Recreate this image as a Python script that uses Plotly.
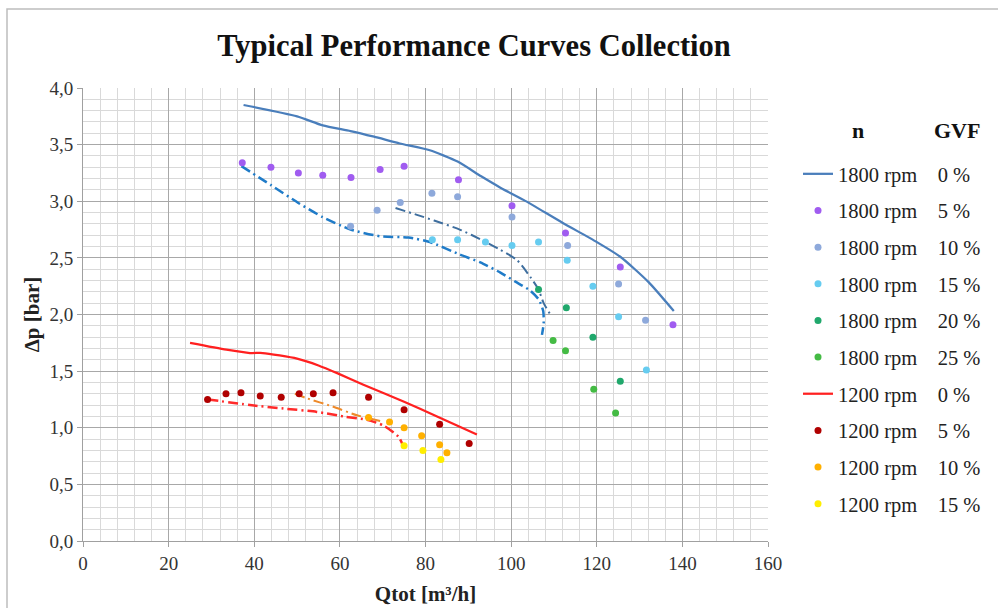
import plotly.graph_objects as go

# ---- measured pump performance data (Q in m3/h, dp in bar) ----
q_1800_0 = [37.5, 50, 56, 62.5, 68, 74, 81, 87.5, 93, 97.5, 103, 112, 120, 125.5, 132, 138]
dp_1800_0 = [3.85, 3.75, 3.67, 3.62, 3.57, 3.51, 3.45, 3.35, 3.22, 3.12, 3.01, 2.81, 2.64, 2.51, 2.29, 2.03]

q_1800_5 = [37.2, 43.9, 50.3, 56.0, 62.6, 69.4, 75.0, 87.7, 100.2, 112.7, 125.5, 137.8]
dp_1800_5 = [3.34, 3.30, 3.25, 3.23, 3.21, 3.28, 3.31, 3.19, 2.96, 2.72, 2.42, 1.91]

q_1800_10 = [62.5, 68.7, 74.1, 81.5, 87.5, 100.2, 113.2, 125.1, 131.4]
dp_1800_10 = [2.78, 2.92, 2.99, 3.07, 3.04, 2.86, 2.61, 2.27, 1.95]

q_1800_15 = [81.6, 87.5, 94.0, 100.2, 106.4, 113.1, 119.1, 125.1, 131.6]
dp_1800_15 = [2.66, 2.66, 2.64, 2.61, 2.64, 2.48, 2.25, 1.98, 1.51]

q_1800_20 = [106.4, 112.9, 119.1, 125.5]
dp_1800_20 = [2.22, 2.06, 1.80, 1.41]

q_1800_25 = [109.8, 112.7, 119.3, 124.4]
dp_1800_25 = [1.77, 1.68, 1.34, 1.13]

q_1200_0 = [25, 33.5, 39, 42, 50, 55, 59.5, 65.5, 75, 82.7, 92]
dp_1200_0 = [1.75, 1.69, 1.66, 1.66, 1.61, 1.55, 1.48, 1.38, 1.23, 1.10, 0.94]

q_1200_5 = [29.1, 33.4, 36.9, 41.4, 46.3, 50.5, 53.8, 58.4, 66.7, 75.0, 83.3, 90.2]
dp_1200_5 = [1.25, 1.30, 1.31, 1.28, 1.27, 1.30, 1.30, 1.31, 1.27, 1.16, 1.03, 0.86]

q_1200_10 = [66.7, 71.6, 75.0, 79.1, 83.3, 85.0]
dp_1200_10 = [1.09, 1.05, 1.00, 0.93, 0.85, 0.78]

q_1200_15 = [75.0, 79.4, 83.6]
dp_1200_15 = [0.84, 0.80, 0.72]

# two-phase trend curves (dash-dot)
q_trend_a = [37, 44, 50.5, 56, 62.5, 69.5, 76, 81, 88, 92.8, 97.5, 101, 104.5, 106.5, 107.5, 107.6, 107.2]
dp_trend_a = [3.31, 3.14, 2.98, 2.86, 2.75, 2.69, 2.68, 2.64, 2.53, 2.46, 2.37, 2.29, 2.21, 2.13, 2.03, 1.92, 1.82]

q_trend_b = [73, 78, 82, 88, 93.6, 97.5, 101.4, 104.5, 106.4, 107.6, 109]
dp_trend_b = [2.94, 2.88, 2.83, 2.75, 2.65, 2.57, 2.48, 2.33, 2.22, 2.10, 2.01]

q_trend_c = [29.2, 39.0, 46.8, 54.6, 60.8, 66.3, 70.2, 73.7, 74.9]
dp_trend_c = [1.25, 1.20, 1.17, 1.14, 1.10, 1.07, 1.02, 0.92, 0.83]

q_trend_d = [49.5, 52.3, 58.1, 64.0, 69.4]
dp_trend_d = [1.30, 1.26, 1.19, 1.11, 1.06]

FONT = "Liberation Serif, Times New Roman, serif"
PAD = "\u00a0" * 4

fig = go.Figure()


def line(q, dp, name, color, width=2.25):
    fig.add_trace(go.Scatter(x=q, y=dp, mode="lines", name=name, legendgroup=name,
                             line=dict(color=color, width=width, shape="spline", smoothing=0.6)))


def dots(q, dp, name, color):
    fig.add_trace(go.Scatter(x=q, y=dp, mode="markers", name=name, legendgroup=name,
                             marker=dict(color=color, size=7)))


def trend(q, dp, color, width):
    fig.add_trace(go.Scatter(x=q, y=dp, mode="lines", showlegend=False, hoverinfo="skip",
                             line=dict(color=color, width=width, dash="10px,4px,2px,4px",
                                       shape="spline", smoothing=0.6)))


trend(q_trend_a, dp_trend_a, "#1F7BC8", 2.5)
trend(q_trend_b, dp_trend_b, "#3E6E9E", 2.0)
trend(q_trend_c, dp_trend_c, "#FF2A2A", 2.5)
trend(q_trend_d, dp_trend_d, "#EE8A2A", 2.0)

line(q_1800_0, dp_1800_0, "1800 rpm" + PAD + "0 %", "#4A7EBB")
dots(q_1800_5, dp_1800_5, "1800 rpm" + PAD + "5 %", "#A05CF0")
dots(q_1800_10, dp_1800_10, "1800 rpm" + PAD + "10 %", "#8EA9DB")
dots(q_1800_15, dp_1800_15, "1800 rpm" + PAD + "15 %", "#66CCF0")
dots(q_1800_20, dp_1800_20, "1800 rpm" + PAD + "20 %", "#20A86C")
dots(q_1800_25, dp_1800_25, "1800 rpm" + PAD + "25 %", "#44BB44")
line(q_1200_0, dp_1200_0, "1200 rpm" + PAD + "0 %", "#FF2020")
dots(q_1200_5, dp_1200_5, "1200 rpm" + PAD + "5 %", "#B00000")
dots(q_1200_10, dp_1200_10, "1200 rpm" + PAD + "10 %", "#FFB000")
dots(q_1200_15, dp_1200_15, "1200 rpm" + PAD + "15 %", "#FFEE00")

W, H = 998, 608
L, R, T, B = 83, 768, 88, 541


def px_x(p):
    return (p - L) / (R - L)


def px_y(p):
    return (B - p) / (B - T)


axis_common = dict(
    showgrid=True, gridcolor="#A8A8A8", gridwidth=1,
    showline=True, linecolor="#A0A0A0", linewidth=1,
    ticks="outside", ticklen=5, tickcolor="#A0A0A0",
    tickfont=dict(family=FONT, size=19, color="#333333"),
    zeroline=False, fixedrange=True,
)

fig.update_xaxes(range=[0, 160], dtick=20, tick0=0,
                 minor=dict(dtick=4, showgrid=True, gridcolor="#D9D9D9", gridwidth=1),
                 title=dict(text="<b>Qtot [m³/h]</b>", font=dict(family=FONT, size=21, color="#222"),
                            standoff=13),
                 **axis_common)
fig.update_yaxes(range=[0, 4], dtick=0.5, tick0=0, tickformat=".1f",
                 minor=dict(dtick=0.1, showgrid=True, gridcolor="#D9D9D9", gridwidth=1),
                 title=dict(text="<b>Δp [bar]</b>", font=dict(family=FONT, size=21, color="#222"),
                            standoff=4),
                 **axis_common)

fig.update_layout(
    width=W, height=H,
    margin=dict(l=L, r=W - R, t=T, b=H - B, autoexpand=False),
    paper_bgcolor="white", plot_bgcolor="white",
    separators=",.",
    title=dict(text="<b>Typical Performance Curves Collection</b>",
               font=dict(family=FONT, size=30.5, color="#111"),
               x=474 / W, xanchor="center", y=1 - 45 / H, yanchor="middle"),
    legend=dict(x=px_x(798), xanchor="left", y=px_y(154), yanchor="top",
                font=dict(family=FONT, size=20.5, color="#222"),
                tracegroupgap=7, traceorder="grouped", bgcolor="rgba(0,0,0,0)"),
    showlegend=True,
    annotations=[
        dict(text="<b>n</b>", x=px_x(858), y=px_y(130), xref="paper", yref="paper",
             xanchor="center", yanchor="middle",
             showarrow=False, font=dict(family=FONT, size=22, color="#111")),
        dict(text="<b>GVF</b>", x=px_x(957), y=px_y(130), xref="paper", yref="paper",
             xanchor="center", yanchor="middle",
             showarrow=False, font=dict(family=FONT, size=22, color="#111")),
    ],
    shapes=[
        dict(type="rect", xref="paper", yref="paper",
             x0=px_x(7), x1=px_x(1010), y0=px_y(620), y1=px_y(9),
             line=dict(color="#BDBDBD", width=1.5), fillcolor="rgba(0,0,0,0)", layer="below"),
    ],
)

fig.write_html("out.html")
